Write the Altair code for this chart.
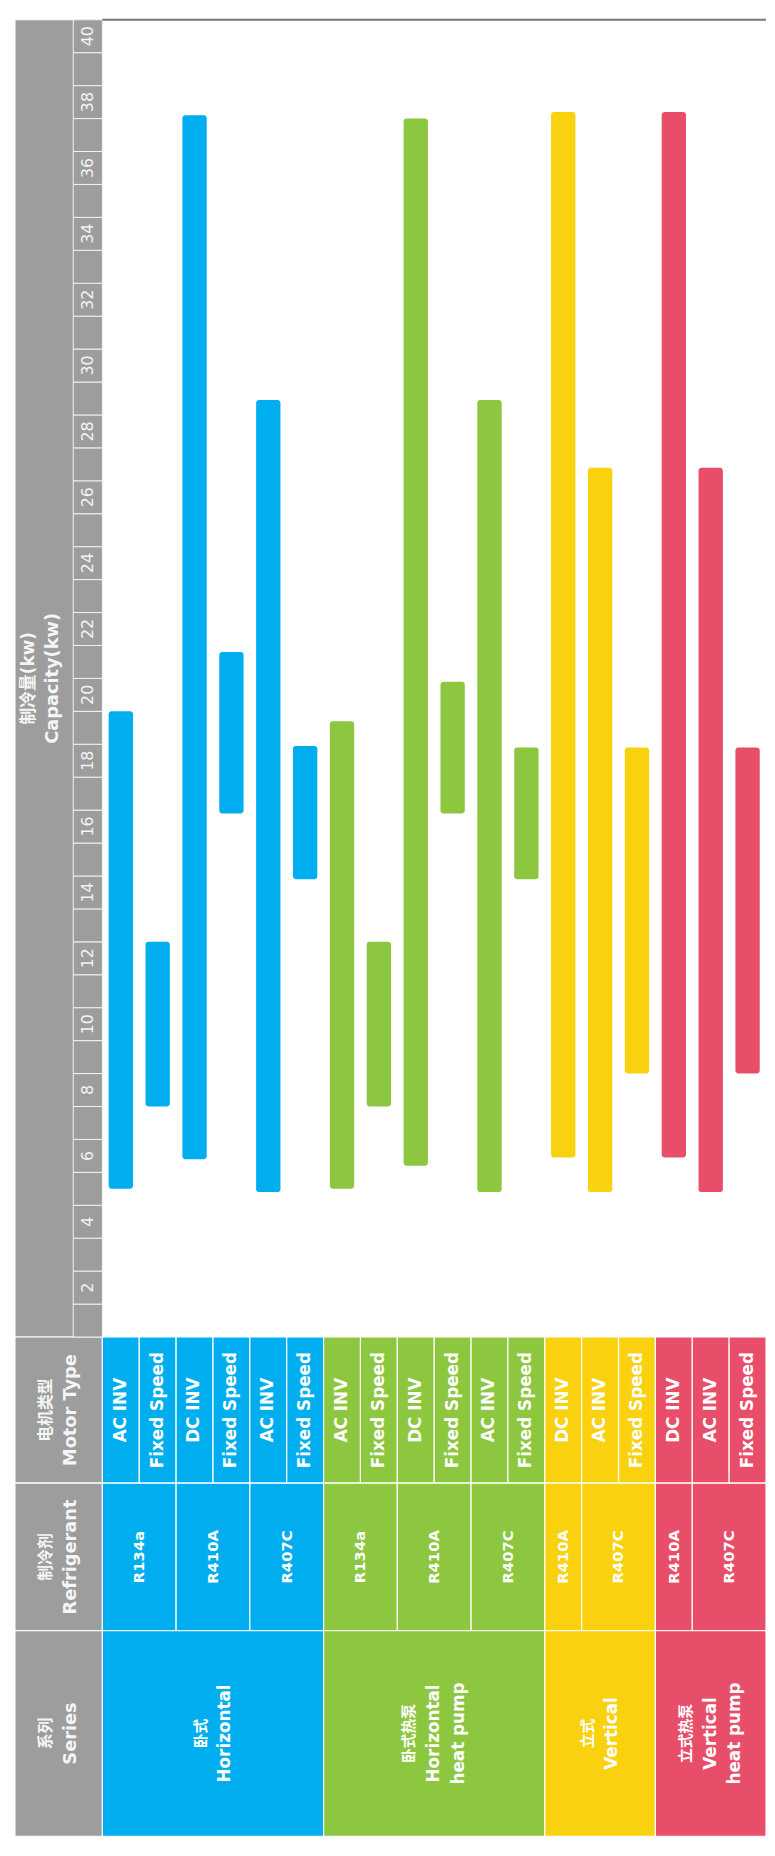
import altair as alt
import pandas as pd

# ---------------- data ----------------
series_cn = ["卧式", "卧式热泵", "立式", "立式热泵"]
series_en = [["Horizontal"], ["Horizontal", "heat pump"], ["Vertical"], ["Vertical", "heat pump"]]
series_colors = ["#00AEEF", "#8DC63F", "#F9D10F", "#E84E69"]

row_series = [0] * 6 + [1] * 6 + [2] * 3 + [3] * 3
row_refrig = ["R134a", "R134a", "R410A", "R410A", "R407C", "R407C",
              "R134a", "R134a", "R410A", "R410A", "R407C", "R407C",
              "R410A", "R407C", "R407C",
              "R410A", "R407C", "R407C"]
row_motor = ["AC INV", "Fixed Speed", "DC INV", "Fixed Speed", "AC INV", "Fixed Speed",
             "AC INV", "Fixed Speed", "DC INV", "Fixed Speed", "AC INV", "Fixed Speed",
             "DC INV", "AC INV", "Fixed Speed",
             "DC INV", "AC INV", "Fixed Speed"]
cap_min = [5.0, 7.5, 5.9, 16.4, 4.9, 14.4,
           5.0, 7.5, 5.7, 16.4, 4.9, 14.4,
           5.95, 4.9, 8.5,
           5.95, 4.9, 8.5]
cap_max = [19.5, 12.5, 37.6, 21.3, 28.95, 18.45,
           19.2, 12.5, 37.5, 20.4, 28.95, 18.4,
           37.7, 26.9, 18.4,
           37.7, 26.9, 18.4]

tick_labels = list(range(2, 41, 2))
tick_cells = list(range(1, 41))

headers_cn = ["电机类型", "制冷剂", "系列"]
headers_en = ["Motor Type", "Refrigerant", "Series"]
title_cn = "制冷量(kw)"
title_en = "Capacity(kw)"

# ---------------- layout ----------------
W, H = 767, 1838
ROW_PX = 37.305
X_MIN = -95.5 / ROW_PX
GRAY_X0 = -2.372
STRIP_X0 = -0.791
PLOT_TOP, TABLE_TOP, MOTOR_BOT, REF_BOT, TABLE_BOT = 40.5, 0.5, -3.94, -8.42, -14.66
GRAY = "#9D9D9D"
FONT = "DejaVu Sans, Noto Sans CJK SC"

XS = alt.Scale(domain=[X_MIN, 18], nice=False, zero=False)
YS = alt.Scale(domain=[TABLE_BOT, PLOT_TOP], nice=False, zero=False)
CS = alt.Scale(domain=series_cn, range=series_colors)


def X(f):
    return alt.X(f, type="quantitative", scale=XS, axis=None)


def Y(f):
    return alt.Y(f, type="quantitative", scale=YS, axis=None)


def COL():
    return alt.Color("series:N", scale=CS, legend=None)


rows = pd.DataFrame({
    "i": list(range(len(row_motor))),
    "series": [series_cn[s] for s in row_series],
    "sidx": row_series,
    "refrig": row_refrig,
    "motor": row_motor,
    "lo": cap_min,
    "hi": cap_max,
})
rows["x0"] = rows["i"]
rows["x1"] = rows["i"] + 1
rows["xc"] = rows["i"] + 0.5
rows["b0"] = rows["i"] + 0.17
rows["b1"] = rows["i"] + 0.83

# refrigerant groups (consecutive runs)
key = rows["sidx"].astype(str) + "_" + rows["refrig"]
rows["rg"] = (key != key.shift()).cumsum()
ref = rows.groupby("rg").agg(series=("series", "first"), refrig=("refrig", "first"),
                             x0=("i", "min"), x1=("i", "max")).reset_index()
ref["x1"] = ref["x1"] + 1
ref["xc"] = (ref["x0"] + ref["x1"]) / 2

ser = rows.groupby("sidx").agg(series=("series", "first"),
                               x0=("i", "min"), x1=("i", "max")).reset_index()
ser["x1"] = ser["x1"] + 1
ser["xc"] = (ser["x0"] + ser["x1"]) / 2

LINE = 25.0 / ROW_PX
ser_lines = []
for _, r in ser.iterrows():
    lines = [(series_cn[r.sidx], "cn")] + [(t, "en") for t in series_en[r.sidx]]
    n = len(lines)
    for k, (t, lang) in enumerate(lines):
        ser_lines.append({"series": r.series, "text": t, "lang": lang,
                          "x": r.xc + (k - (n - 1) / 2) * LINE})
ser_lines = pd.DataFrame(ser_lines)
ser_lines["y"] = (REF_BOT + TABLE_BOT) / 2

# gray header column cells
gray_cells = pd.DataFrame({
    "x0": [GRAY_X0] * 4, "x1": [0.0] * 4,
    "y0": [TABLE_TOP, MOTOR_BOT, REF_BOT, TABLE_BOT],
    "y1": [PLOT_TOP, TABLE_TOP, MOTOR_BOT, REF_BOT],
})

cells = pd.DataFrame({"v": tick_cells})
cells["y0"] = cells["v"] - 0.5
cells["y1"] = cells["v"] + 0.5
cells["x0"] = STRIP_X0
cells["x1"] = 0.0

labels = pd.DataFrame({"v": tick_labels, "t": [str(v) for v in tick_labels]})
labels["x"] = STRIP_X0 / 2

hdr_y = [(TABLE_TOP + MOTOR_BOT) / 2, (MOTOR_BOT + REF_BOT) / 2, (REF_BOT + TABLE_BOT) / 2]
hdr = pd.DataFrame({"y": hdr_y * 2, "t": headers_cn + headers_en,
                    "lang": ["cn"] * 3 + ["en"] * 3})
hdr["x"] = [-1.515] * 3 + [-0.845] * 3

ttl = pd.DataFrame({"t": [title_cn, title_en], "lang": ["cn", "en"],
                    "x": [-1.997, -1.327], "y": [20.5, 20.5]})

top_line = pd.DataFrame({"x0": [0.0], "x1": [18.0], "y": [PLOT_TOP]})

# ---------------- layers ----------------
gray_layer = alt.Chart(gray_cells).mark_rect(fill=GRAY, stroke="white", strokeWidth=1.2).encode(
    x=X("x0"), x2="x1", y=Y("y0"), y2="y1")

cell_layer = alt.Chart(cells).mark_rect(fill=GRAY, stroke="#f2f2f2", strokeWidth=1).encode(
    x=X("x0"), x2="x1", y=Y("y0"), y2="y1")

label_layer = alt.Chart(labels).mark_text(angle=270, font=FONT, fontSize=16, color="#f3f3f3",
                                          align="center", baseline="middle").encode(
    x=X("x"), y=Y("v"), text="t:N")

title_cn_layer = alt.Chart(ttl).transform_filter("datum.lang == 'cn'").mark_text(
    angle=270, font=FONT, fontSize=17, fontWeight="bold", color="#f5f5f5",
    align="center", baseline="middle").encode(x=X("x"), y=Y("y"), text="t:N")
title_en_layer = alt.Chart(ttl).transform_filter("datum.lang == 'en'").mark_text(
    angle=270, font=FONT, fontSize=18, fontWeight="bold", color="#f5f5f5",
    align="center", baseline="middle").encode(x=X("x"), y=Y("y"), text="t:N")

hdr_cn_layer = alt.Chart(hdr).transform_filter("datum.lang == 'cn'").mark_text(
    angle=270, font=FONT, fontSize=16, fontWeight="bold", color="#f5f5f5",
    align="center", baseline="middle").encode(x=X("x"), y=Y("y"), text="t:N")
hdr_en_layer = alt.Chart(hdr).transform_filter("datum.lang == 'en'").mark_text(
    angle=270, font=FONT, fontSize=18, fontWeight="bold", color="#f5f5f5",
    align="center", baseline="middle").encode(x=X("x"), y=Y("y"), text="t:N")

bars = alt.Chart(rows).mark_rect(cornerRadius=3).encode(
    x=X("b0"), x2="b1", y=Y("lo"), y2="hi", color=COL())

motor_cells = alt.Chart(rows).transform_calculate(y0=str(MOTOR_BOT), y1=str(TABLE_TOP)).mark_rect(
    stroke="white", strokeWidth=1.2).encode(x=X("x0"), x2="x1", y=Y("y0"), y2="y1", color=COL())
motor_text = alt.Chart(rows).transform_calculate(y=str((TABLE_TOP + MOTOR_BOT) / 2)).mark_text(
    angle=270, font=FONT, fontSize=17, fontWeight="bold", color="white",
    align="center", baseline="middle").encode(x=X("xc"), y=Y("y"), text="motor:N")

ref_cells = alt.Chart(ref).transform_calculate(y0=str(REF_BOT), y1=str(MOTOR_BOT)).mark_rect(
    stroke="white", strokeWidth=1.2).encode(x=X("x0"), x2="x1", y=Y("y0"), y2="y1", color=COL())
ref_text = alt.Chart(ref).transform_calculate(y=str((MOTOR_BOT + REF_BOT) / 2)).mark_text(
    angle=270, font=FONT, fontSize=15, fontWeight="bold", color="white",
    align="center", baseline="middle").encode(x=X("xc"), y=Y("y"), text="refrig:N")

ser_cells = alt.Chart(ser).transform_calculate(y0=str(TABLE_BOT), y1=str(REF_BOT)).mark_rect(
    stroke="white", strokeWidth=1.2).encode(x=X("x0"), x2="x1", y=Y("y0"), y2="y1", color=COL())
ser_cn_text = alt.Chart(ser_lines).transform_filter("datum.lang == 'cn'").mark_text(
    angle=270, font=FONT, fontSize=15, fontWeight="bold", color="white",
    align="center", baseline="middle").encode(x=X("x"), y=Y("y"), text="text:N")
ser_en_text = alt.Chart(ser_lines).transform_filter("datum.lang == 'en'").mark_text(
    angle=270, font=FONT, fontSize=17, fontWeight="bold", color="white",
    align="center", baseline="middle").encode(x=X("x"), y=Y("y"), text="text:N")

top_rule = alt.Chart(top_line).mark_rule(color="#777777", strokeWidth=2).encode(
    x=X("x0"), x2="x1", y=Y("y"))

chart = alt.layer(
    gray_layer, cell_layer, label_layer, title_cn_layer, title_en_layer,
    hdr_cn_layer, hdr_en_layer, bars,
    motor_cells, motor_text, ref_cells, ref_text, ser_cells, ser_cn_text, ser_en_text,
    top_rule,
).properties(width=W, height=H, padding=0, background="white").configure_view(stroke=None)

chart.save("out.html", embed_options={"renderer": "svg", "actions": False})
